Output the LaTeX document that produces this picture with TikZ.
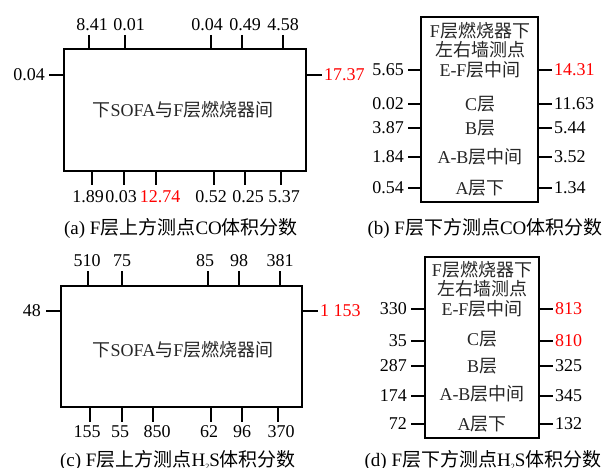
\documentclass[tikz,border=0pt]{standalone}
\usepackage{fontspec}
\setmainfont{Liberation Serif}
\newfontfamily\zhfont{Noto Sans CJK SC}
\newcommand{\zh}[1]{{\zhfont #1}}
\newcommand{\hts}{H\raisebox{-0.35ex}{\fontsize{8}{8}\selectfont 2}S}
\begin{document}
\begin{tikzpicture}[x=1pt,y=-1pt,
  box/.style={draw, line width=1.2pt, inner sep=0, fill=none},
  tick/.style={line width=1.2pt},
  num/.style={font=\fontsize{18}{20}\selectfont, inner sep=0},
  hot/.style={num, text=red},
  inner/.style={font=\fontsize{18}{19}\selectfont, text=black!85, inner sep=0},
  capt/.style={font=\fontsize{19}{20}\selectfont, inner sep=0}]
\useasboundingbox (0,0) rectangle (608,468);

% ---------------- panel (a)
\node[box, minimum width=242pt, minimum height=122pt] (A) at (185,110) {};
\node[inner] (Atext) at (183,110) {\zh{下}SOFA\zh{与}F\zh{层燃烧器间}};
\foreach \tx/\lx/\v in {89/92/8.41, 125/129/0.01, 211/207/0.04, 242/245/0.49, 283/283/4.58}{
  \draw[tick] (\tx,35) -- (\tx,49);
  \node[num] at (\lx,25) {\v};
}
\foreach \tx/\lx/\v/\c in {92/88/1.89/black, 124/121/0.03/black, 156/160/12.74/red, 214/211/0.52/black, 245/248/0.25/black, 281/284/5.37/black}{
  \draw[tick] (\tx,171) -- (\tx,185);
  \node[num, text=\c] at (\lx,197) {\v};
}
\draw[tick] (49,75) -- (64,75);
\node[num, anchor=east] (Al) at (45,75) {0.04};
\draw[tick] (306,75) -- (322,75);
\node[hot, anchor=west] (Ar) at (324,75) {17.37};
\node[capt] (Acap) at (181,228) {(a) F\zh{层上方测点}CO\zh{体积分数}};

% ---------------- panel (b)
\node[box, minimum width=117pt, minimum height=185pt] (B) at (479.5,109.5) {};
\foreach \y/\t in {31/F\zh{层燃烧器下}, 50/\zh{左右墙测点}, 70/E-F\zh{层中间}, 104/C\zh{层}, 128/B\zh{层}, 157/A-B\zh{层中间}, 188/A\zh{层下}}{
  \node[inner] at (480,\y) {\t};
}
\foreach \y/\v in {70/5.65, 104/0.02, 128/3.87, 157/1.84, 188/0.54}{
  \draw[tick] (408,\y) -- (421,\y);
  \node[num, anchor=east] at (404,\y) {\v};
}
\foreach \y/\v/\c in {70/14.31/red, 104/11.63/black, 128/5.44/black, 157/3.52/black, 188/1.34/black}{
  \draw[tick] (538,\y) -- (552,\y);
  \node[num, anchor=west, text=\c] at (554,\y) {\v};
}
\node[capt] (Bcap) at (485,228) {(b) F\zh{层下方测点}CO\zh{体积分数}};

% ---------------- panel (c)
\node[box, minimum width=241pt, minimum height=121pt] (C) at (181.5,346.5) {};
\node[inner] (Ctext) at (183,350) {\zh{下}SOFA\zh{与}F\zh{层燃烧器间}};
\foreach \tx/\lx/\v in {88/87/510, 122/122/75, 208/205/85, 239/239/98, 280/280/381}{
  \draw[tick] (\tx,271) -- (\tx,286);
  \node[num] at (\lx,261) {\v};
}
\foreach \tx/\lx/\v in {90/87/155, 122/120/55, 153/157/850, 211/209/62, 242/242/96, 278/281/370}{
  \draw[tick] (\tx,407) -- (\tx,422);
  \node[num] at (\lx,432) {\v};
}
\draw[tick] (46,311) -- (61,311);
\node[num, anchor=east] (Cl) at (41,311) {48};
\draw[tick] (302,311) -- (318,311);
\node[hot, anchor=west] (Cr) at (320,311) {1 153};
\node[capt] (Ccap) at (178,460) {(c) F\zh{层上方测点}\hts\zh{体积分数}};

% ---------------- panel (d)
\node[box, minimum width=114pt, minimum height=181pt] (D) at (482,347.5) {};
\foreach \y/\t in {270/F\zh{层燃烧器下}, 289/\zh{左右墙测点}, 309/E-F\zh{层中间}, 339/C\zh{层}, 366/B\zh{层}, 394/A-B\zh{层中间}, 424/A\zh{层下}}{
  \node[inner] at (482,\y) {\t};
}
\foreach \y/\v in {309/330, 341/35, 366/287, 396/174, 424/72}{
  \draw[tick] (411,\y) -- (425,\y);
  \node[num, anchor=east] at (407,\y) {\v};
}
\foreach \y/\v/\c in {309/813/red, 341/810/red, 366/325/black, 396/345/black, 424/132/black}{
  \draw[tick] (539,\y) -- (553,\y);
  \node[num, anchor=west, text=\c] at (555,\y) {\v};
}
\node[capt] (Dcap) at (483,460) {(d) F\zh{层下方测点}\hts\zh{体积分数}};
\end{tikzpicture}
\end{document}
